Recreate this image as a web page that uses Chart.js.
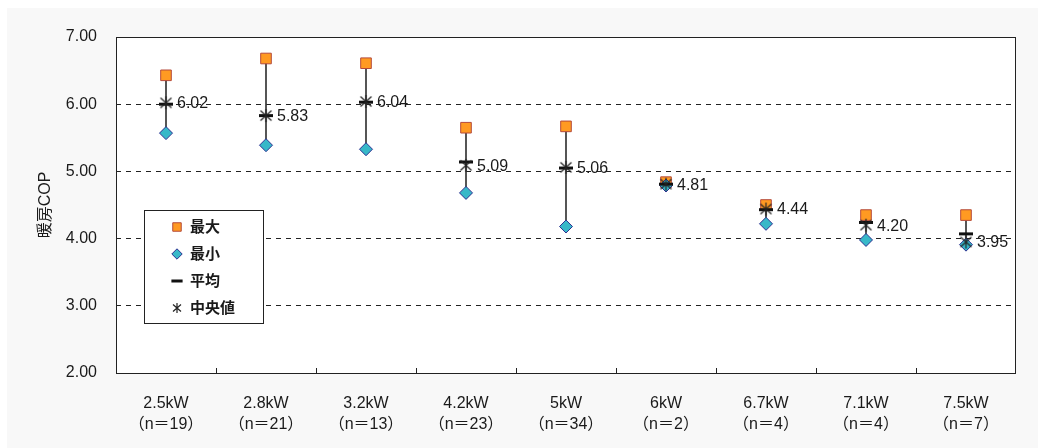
<!DOCTYPE html>
<html><head><meta charset="utf-8">
<script src="https://cdn.jsdelivr.net/npm/chart.js@4/dist/chart.umd.min.js"></script>
<style>html,body{margin:0;padding:0;background:#fff;overflow:hidden}#wrap{width:1038px;height:448px;position:relative}</style>
</head><body><div id="wrap"><canvas id="c" width="1038" height="448"></canvas></div>
<script>
const categories = ['2.5kW','2.8kW','3.2kW','4.2kW','5kW','6kW','6.7kW','7.1kW','7.5kW'];
const sampleCounts = [19,21,13,23,34,2,4,4,7];
const maxValues = [6.43,6.68,6.61,5.65,5.67,4.84,4.50,4.35,4.35];
const minValues = [5.57,5.39,5.33,4.68,4.18,4.79,4.22,3.98,3.91];
const avgValues = [6.00,5.83,6.03,5.14,5.05,4.81,4.43,4.24,4.07];
const medianValues = [6.02,5.83,6.04,5.09,5.06,4.81,4.44,4.20,3.95];
const yMin = 2, yMax = 7, yStep = 1;
const legendLabels = ['最大','最小','平均','中央値'];
const yTitle = '暖房COP';

const FONT = "'Liberation Sans', 'Noto Sans CJK JP', sans-serif";
const TEXT = '#1a1a1a';

function starImage(size){
  const c = document.createElement('canvas'); c.width = size; c.height = size;
  const g = c.getContext('2d'); g.strokeStyle = '#222'; g.lineWidth = 1.2;
  const m = size/2, e = size - 2;
  g.beginPath();
  g.moveTo(2,2.5); g.lineTo(e,size-2.5);
  g.moveTo(e,2.5); g.lineTo(2,size-2.5);
  g.moveTo(m,1); g.lineTo(m,size-1);
  g.stroke();
  return c;
}
const STAR = starImage(15);
const STAR_SMALL = starImage(12);

const xLabels = categories.map((c,i)=>[c, '（n＝' + sampleCounts[i] + '）']);

const bgPlugin = {
  id:'bg',
  beforeDraw(chart){
    const {ctx, chartArea:a} = chart;
    ctx.save();
    ctx.fillStyle = '#f8f8f8';
    ctx.fillRect(7, 8, chart.width-7, chart.height-8);
    ctx.fillStyle = '#ffffff';
    ctx.fillRect(a.left, a.top, a.right-a.left, a.bottom-a.top);
    ctx.restore();
  },
  beforeDatasetsDraw(chart){
    const {ctx, chartArea:a, scales} = chart;
    ctx.save();
    ctx.strokeStyle = '#222'; ctx.lineWidth = 1;
    ctx.strokeRect(a.left+0.5, a.top+0.5, a.right-a.left-1, a.bottom-a.top);
    const xs = scales.x;
    ctx.beginPath();
    for (let i = 1; i < categories.length; i++){
      const px = Math.round((xs.getPixelForValue(i-1) + xs.getPixelForValue(i))/2) + 0.5;
      ctx.moveTo(px, a.bottom); ctx.lineTo(px, a.bottom-5);
    }
    ctx.stroke();
    ctx.restore();
  },
  afterDatasetsDraw(chart){
    const {ctx} = chart;
    const meta = chart.getDatasetMeta(4);
    ctx.save();
    ctx.font = '16px ' + FONT; ctx.fillStyle = TEXT;
    ctx.textAlign = 'left'; ctx.textBaseline = 'middle';
    meta.data.forEach((pt,i)=>{
      ctx.fillText(medianValues[i].toFixed(2), pt.x + 11, pt.y + 1);
    });
    ctx.restore();
  },
  afterDraw(chart){
    const {ctx} = chart;
    const bx = 144, by = 210, bw = 119, bh = 113;
    ctx.save();
    ctx.fillStyle = '#fff'; ctx.fillRect(bx, by, bw, bh);
    ctx.strokeStyle = '#222'; ctx.lineWidth = 1;
    ctx.strokeRect(bx+0.5, by+0.5, bw, bh);
    const ys = [227, 254, 281, 308];
    legendLabels.forEach((lab,k)=>{
      const ds = chart.data.datasets[k+1];
      ctx.save();
      ctx.fillStyle = ds.backgroundColor; ctx.strokeStyle = ds.borderColor;
      ctx.lineWidth = ds.borderWidth; ctx.setLineDash([]);
      const style = ds.pointStyle === STAR ? STAR_SMALL : ds.pointStyle;
      Chart.helpers.drawPoint(ctx, {
        pointStyle: style, radius: ds.pointRadius * 0.8, rotation: 0,
        borderWidth: ds.borderWidth
      }, 177, ys[k]);
      ctx.restore();
      ctx.font = 'bold 15px ' + FONT; ctx.fillStyle = TEXT;
      ctx.textAlign = 'left'; ctx.textBaseline = 'middle';
      ctx.fillText(lab, 190, ys[k]+1);
    });
    ctx.restore();
  }
};

const chart = new Chart(document.getElementById('c'), {
  type:'bar',
  data:{
    labels: xLabels,
    datasets:[
      {type:'bar', data: minValues.map((m,i)=>[m, maxValues[i]]), backgroundColor:'#333', barThickness:1, order:5},
      {type:'line', label:legendLabels[0], data:maxValues, showLine:false, pointStyle:'rect', pointRadius:7.5,
       backgroundColor:'#FF9A22', borderColor:'#B54A3A', borderWidth:1, order:4},
      {type:'line', label:legendLabels[1], data:minValues, showLine:false, pointStyle:'rectRot', pointRadius:6.5,
       backgroundColor:'#37B8C8', borderColor:'#2E3192', borderWidth:1, order:3},
      {type:'line', label:legendLabels[2], data:avgValues, showLine:false, pointStyle:'line', pointRadius:7,
       backgroundColor:'#111', borderColor:'#111', borderWidth:3, order:2},
      {type:'line', label:legendLabels[3], data:medianValues, showLine:false, pointStyle:STAR, pointRadius:7,
       backgroundColor:'#222', borderColor:'#222', borderWidth:1, order:1}
    ]
  },
  options:{
    responsive:false, animation:false, events:[], devicePixelRatio:1,
    layout:{padding:{left:0, right:22, top:37, bottom:0}},
    plugins:{legend:{display:false}, tooltip:{enabled:false}},
    scales:{
      x:{
        grid:{display:false}, border:{display:false},
        ticks:{font:{family:FONT, size:16, lineHeight:1.3}, color:TEXT, padding:12, maxRotation:0, autoSkip:false},
        afterFit(s){ s.height = 75; }
      },
      y:{
        min:yMin, max:yMax,
        ticks:{stepSize:yStep, font:{family:FONT, size:16}, color:TEXT, padding:19,
          callback:(v)=>Number(v).toFixed(2)},
        grid:{drawTicks:false, lineWidth:1,
          color:(c)=> (c.tick && (c.tick.value===yMin || c.tick.value===yMax)) ? 'rgba(0,0,0,0)' : '#222'},
        border:{display:false, dash:[5,5]},
        title:{display:true, text:yTitle, font:{family:FONT, size:16}, color:TEXT, padding:{top:36, bottom:0}},
        afterFit(s){ s.width = 116; }
      }
    }
  },
  plugins:[bgPlugin]
});
</script></body></html>
